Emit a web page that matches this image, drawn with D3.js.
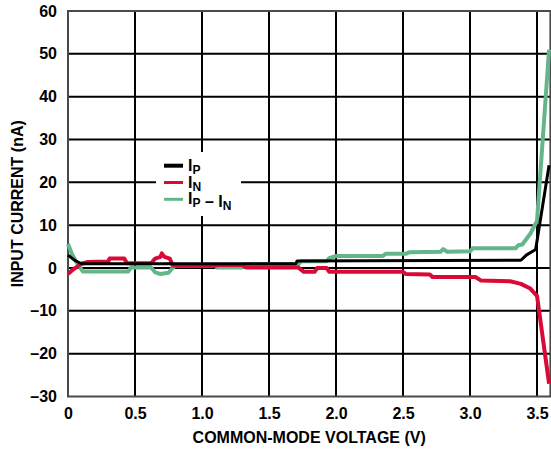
<!DOCTYPE html>
<html>
<head>
<meta charset="utf-8">
<script src="https://cdn.jsdelivr.net/npm/d3@7"></script>
<style>
    body { margin: 0; background: #fff; }
    text { font-family: "Liberation Sans", Arial, sans-serif; font-weight: bold; fill: #000; }
</style>
</head>
<body>
<script>
// tick values
var xTicks = [0, 0.5, 1.0, 1.5, 2.0, 2.5, 3.0, 3.5];
var yTicks = [-30, -20, -10, 0, 10, 20, 30, 40, 50, 60];

// series, [volts, nA]
var ipPoints = [[0, 3.0], [0.05, 1.8], [0.1, 1.0], [1.7, 1.0], [1.71, 1.65], [3.38, 1.8],
    [3.42, 3.0], [3.49, 4.3], [3.59, 24]];

var inPoints = [[0, -1.4], [0.04, -0.3], [0.1, 1.0], [0.15, 1.4], [0.3, 1.5], [0.31, 2.2],
    [0.42, 2.2], [0.44, 1.1], [0.62, 1.1], [0.65, 2.2], [0.69, 2.6], [0.7, 3.4], [0.72, 2.6],
    [0.76, 2.2], [0.78, 0.6], [1.1, 0.5], [1.11, 0.7], [1.3, 0.7], [1.33, 0.1], [1.72, 0.1],
    [1.76, -0.9], [1.84, -0.9], [1.86, 0.0], [1.93, 0.0], [1.95, -0.9], [2.5, -0.9],
    [2.52, -1.4], [2.7, -1.5], [2.72, -2.1], [3.04, -2.1], [3.08, -2.9], [3.3, -3.1],
    [3.38, -3.7], [3.45, -4.8], [3.5, -6.5], [3.59, -27]];

var diffPoints = [[0, 5.6], [0.03, 3.2], [0.07, 1.0], [0.11, -0.8], [0.45, -0.8], [0.47, 0.1],
    [0.62, 0.1], [0.65, -1.0], [0.69, -1.4], [0.75, -1.1], [0.78, 0.0], [0.8, 0.5], [1.1, 0.5],
    [1.11, 0.1], [1.3, 0.1], [1.33, 0.9], [1.72, 0.9], [1.74, 1.6], [1.93, 1.6], [1.95, 2.3],
    [2.0, 2.8], [2.35, 2.8], [2.37, 3.3], [2.52, 3.3], [2.55, 3.7], [2.78, 3.8], [2.8, 4.4],
    [2.83, 3.8], [3.0, 3.9], [3.02, 4.6], [3.34, 4.6], [3.36, 5.3], [3.39, 5.5], [3.45, 8.0],
    [3.5, 11], [3.59, 51]];

var legendItems = [
    { main: "I", sub: "P", color: "#000", width: 4 },
    { main: "I", sub: "N", color: "#d90a36", width: 3 },
    { main: "I", sub: "P", tail: " \u2013 I", tailSub: "N", color: "#62b68a", width: 3 }
];

var Chart = (function () {
    var svg, x, y;
    var left = 68, right = 550.4, top = 11, bottom = 396.5;

    return { init: init };

    function init() {
        svg = d3.select("body").append("svg")
            .attr("width", 551)
            .attr("height", 452);

        x = d3.scaleLinear().domain([0, 3.6]).range([left, right]);
        y = d3.scaleLinear().domain([-30, 60]).range([bottom, top]);

        drawGrid();
        drawAxes();
        drawLegend();

        drawSeries(diffPoints, "#62b68a", 4);
        drawSeries(inPoints, "#d90a36", 4);
        drawSeries(ipPoints, "#000", 3);
    }

    function drawGrid() {
        //vertical lines
        svg.selectAll(".vgrid")
            .data(xTicks.filter(function (d) { return d > 0; }))
            .enter().append("line")
            .attr("x1", function (d) { return x(d); })
            .attr("x2", function (d) { return x(d); })
            .attr("y1", top)
            .attr("y2", bottom)
            .attr("stroke", "#000")
            .attr("stroke-width", 2);

        //horizontal lines
        svg.selectAll(".hgrid")
            .data(yTicks.filter(function (d) { return d > -30 && d < 60; }))
            .enter().append("line")
            .attr("x1", left)
            .attr("x2", right)
            .attr("y1", function (d) { return y(d); })
            .attr("y2", function (d) { return y(d); })
            .attr("stroke", "#000")
            .attr("stroke-width", 2);

        //frame
        svg.append("rect")
            .attr("x", left)
            .attr("y", top)
            .attr("width", right - left)
            .attr("height", bottom - top)
            .attr("fill", "none")
            .attr("stroke", "#4a4a4a")
            .attr("stroke-width", 2);
    }

    function drawAxes() {
        var gx = svg.append("g")
            .attr("transform", "translate(0," + bottom + ")")
            .call(d3.axisBottom(x)
                .tickValues(xTicks)
                .tickSize(0)
                .tickPadding(11.5)
                .tickFormat(function (d) { return d === 0 ? "0" : d3.format(".1f")(d); }));

        var gy = svg.append("g")
            .attr("transform", "translate(" + left + ",0)")
            .call(d3.axisLeft(y)
                .tickValues(yTicks)
                .tickSize(0)
                .tickPadding(11)
                .tickFormat(function (d) { return d < 0 ? "\u2013" + Math.abs(d) : d; }));

        [gx, gy].forEach(function (g) {
            g.select(".domain").remove();
            g.selectAll("text")
                .attr("font-size", 16)
                .attr("font-family", null);
        });

        svg.append("text")
            .attr("x", (left + right) / 2)
            .attr("y", 443)
            .attr("text-anchor", "middle")
            .attr("font-size", 16)
            .text("COMMON-MODE VOLTAGE (V)");

        svg.append("text")
            .attr("transform", "translate(23," + (top + bottom) / 2 + ") rotate(-90)")
            .attr("text-anchor", "middle")
            .attr("font-size", 16)
            .text("INPUT CURRENT (nA)");
    }

    function drawLegend() {
        svg.append("rect")
            .attr("x", 156)
            .attr("y", 152)
            .attr("width", 85)
            .attr("height", 64)
            .attr("fill", "#fff");

        legendItems.forEach(function (d, i) {
            var ly = 165.7 + i * 16.8;

            svg.append("line")
                .attr("x1", 164)
                .attr("x2", 183)
                .attr("y1", ly)
                .attr("y2", ly)
                .attr("stroke", d.color)
                .attr("stroke-width", d.width);

            var t = svg.append("text")
                .attr("x", 188)
                .attr("y", ly + 5)
                .attr("font-size", 16);

            addPart(t, d.main, d.sub);
            if (d.tail) addPart(t, d.tail, d.tailSub);
        });
    }

    function addPart(t, main, sub) {
        t.append("tspan").text(main);
        t.append("tspan")
            .attr("font-size", 12)
            .attr("dy", 3)
            .text(sub);
        t.append("tspan")
            .attr("dy", -3)
            .text("");
    }

    function drawSeries(points, color, width) {
        var line = d3.line()
            .x(function (d) { return x(d[0]); })
            .y(function (d) { return y(d[1]); });

        svg.append("path")
            .datum(points)
            .attr("d", line)
            .attr("fill", "none")
            .attr("stroke", color)
            .attr("stroke-width", width)
            .attr("stroke-linejoin", "round");
    }
}());

Chart.init();
</script>
</body>
</html>
